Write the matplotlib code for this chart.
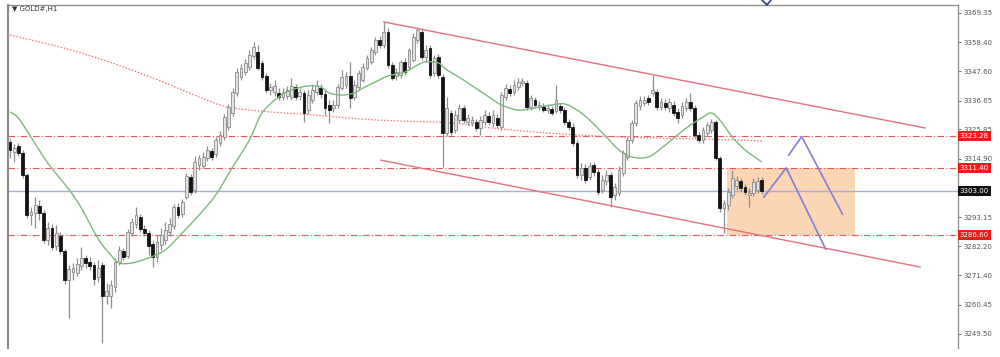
import matplotlib
matplotlib.use('Agg')
import matplotlib.pyplot as plt
import matplotlib.transforms as mtransforms
from matplotlib.patches import Rectangle, PathPatch
from matplotlib.path import Path
from matplotlib.lines import Line2D

symbol_label = "\u25BC GOLD#,H1"

open_ = [
    3321.2, 3317.4, 3319.7, 3317.1, 3308.9, 3293.9, 3294.7, 3297.3, 3294.7, 3284.6,
    3289.1, 3282.3, 3286.1, 3280.5, 3269.6, 3272.6, 3272.3, 3274.9, 3277.9, 3276.4,
    3275.2, 3270.8, 3275.2, 3263.7, 3263.7, 3267.0, 3276.4, 3280.5, 3278.6, 3287.2,
    3290.6, 3293.2, 3288.7, 3287.2, 3283.1, 3278.2, 3282.7, 3284.6, 3287.6, 3289.8,
    3296.9, 3294.3, 3300.6, 3308.1, 3303.3, 3312.6, 3312.2, 3315.2, 3317.8, 3316.7,
    3320.8, 3323.0, 3326.8, 3332.1, 3339.5, 3345.5, 3347.3, 3349.2, 3353.3, 3354.8,
    3350.7, 3345.8, 3340.6, 3339.9, 3339.5, 3338.0, 3338.4, 3338.0, 3341.7, 3338.4,
    3339.5, 3333.1, 3336.9, 3339.9, 3341.3, 3339.1, 3335.0, 3333.9, 3335.0, 3341.3,
    3342.5, 3345.8, 3338.0, 3341.7, 3344.3, 3348.8, 3351.1, 3354.8, 3359.3, 3357.4,
    3362.3, 3349.9, 3345.8, 3346.2, 3351.1, 3349.2, 3351.8, 3359.3, 3362.3, 3352.9,
    3356.3, 3346.9, 3352.9, 3345.5, 3324.5, 3332.0, 3325.7, 3329.4, 3333.9, 3328.6,
    3328.3, 3328.6, 3326.4, 3328.6, 3330.9, 3328.3, 3330.1, 3326.8, 3338.0, 3341.0,
    3339.9, 3341.7, 3343.2, 3343.2, 3334.2, 3336.9, 3334.2, 3334.6, 3333.1, 3333.5,
    3332.8, 3334.6, 3333.1, 3328.6, 3326.8, 3320.8, 3308.9, 3311.5, 3308.1, 3312.6,
    3310.0, 3303.3, 3306.6, 3308.9, 3301.4, 3302.1, 3309.6, 3315.6, 3321.9, 3328.3,
    3334.6, 3335.7, 3337.6, 3339.5, 3339.9, 3334.2, 3335.7, 3333.9, 3335.0, 3332.4,
    3331.3, 3333.9, 3336.1, 3333.9, 3323.8, 3321.9, 3324.5, 3325.7, 3328.6, 3315.2,
    3296.5, 3297.7, 3301.4, 3304.8, 3306.6, 3304.4, 3301.4, 3302.1, 3303.3, 3307.0,
]
high = [
    3322.7, 3320.4, 3320.8, 3318.2, 3309.6, 3296.9, 3300.6, 3299.5, 3295.8, 3291.3,
    3290.6, 3290.2, 3287.6, 3281.2, 3275.2, 3276.0, 3277.9, 3282.0, 3279.0, 3278.2,
    3276.4, 3277.1, 3276.4, 3268.5, 3269.6, 3277.9, 3282.3, 3281.6, 3288.7, 3292.8,
    3296.9, 3294.3, 3290.2, 3288.3, 3284.6, 3286.5, 3289.1, 3291.3, 3292.8, 3298.0,
    3298.4, 3299.9, 3309.6, 3309.2, 3315.9, 3316.3, 3317.4, 3319.7, 3318.9, 3323.0,
    3325.3, 3331.6, 3335.4, 3341.3, 3348.8, 3350.3, 3352.2, 3355.5, 3358.5, 3357.4,
    3351.8, 3346.9, 3343.2, 3344.3, 3341.3, 3341.3, 3342.1, 3345.1, 3342.8, 3341.3,
    3340.6, 3340.6, 3342.8, 3344.3, 3342.8, 3340.6, 3336.9, 3336.9, 3342.8, 3348.1,
    3347.3, 3351.1, 3344.3, 3348.1, 3350.7, 3353.7, 3356.7, 3360.4, 3360.8, 3366.0,
    3363.7, 3351.1, 3348.8, 3351.8, 3352.5, 3356.3, 3361.9, 3364.1, 3363.7, 3357.4,
    3357.4, 3353.7, 3354.0, 3346.6, 3338.0, 3333.1, 3333.1, 3335.4, 3335.0, 3331.6,
    3330.9, 3329.8, 3330.9, 3333.1, 3332.4, 3333.1, 3331.6, 3339.9, 3342.8, 3342.5,
    3344.3, 3345.1, 3345.1, 3344.3, 3338.7, 3338.0, 3336.5, 3335.7, 3335.4, 3334.6,
    3342.5, 3335.7, 3334.2, 3329.8, 3328.3, 3321.9, 3313.3, 3313.0, 3313.7, 3313.7,
    3311.5, 3308.9, 3310.7, 3310.0, 3305.9, 3312.2, 3318.2, 3323.0, 3329.4, 3336.9,
    3338.4, 3338.4, 3338.7, 3346.2, 3341.0, 3337.6, 3337.2, 3337.6, 3336.5, 3333.9,
    3336.1, 3337.6, 3339.5, 3335.0, 3324.9, 3326.8, 3328.6, 3329.8, 3329.4, 3315.9,
    3299.5, 3304.0, 3310.7, 3308.5, 3307.7, 3305.5, 3304.0, 3307.7, 3308.1, 3308.1,
]
low = [
    3315.2, 3313.7, 3315.9, 3307.7, 3292.8, 3290.2, 3289.1, 3292.1, 3283.5, 3282.7,
    3280.9, 3280.9, 3279.4, 3268.2, 3255.5, 3269.6, 3271.1, 3273.4, 3274.1, 3273.4,
    3267.8, 3268.9, 3246.1, 3260.7, 3259.2, 3265.2, 3275.2, 3277.1, 3277.9, 3286.1,
    3289.1, 3287.6, 3286.1, 3279.0, 3274.5, 3276.4, 3280.9, 3283.1, 3286.1, 3288.7,
    3292.8, 3293.2, 3299.9, 3301.4, 3302.1, 3310.7, 3311.5, 3314.1, 3314.5, 3315.6,
    3319.7, 3321.9, 3325.7, 3330.9, 3338.4, 3344.3, 3346.2, 3348.1, 3352.2, 3348.1,
    3344.3, 3339.5, 3338.7, 3338.4, 3336.9, 3336.9, 3337.2, 3336.9, 3336.9, 3336.9,
    3328.6, 3331.6, 3335.7, 3338.7, 3337.6, 3331.3, 3328.3, 3332.4, 3333.9, 3340.6,
    3341.3, 3333.9, 3336.9, 3340.6, 3343.6, 3348.1, 3350.3, 3353.7, 3356.3, 3356.3,
    3348.8, 3344.3, 3344.3, 3345.1, 3346.2, 3348.1, 3351.1, 3358.2, 3351.8, 3351.1,
    3345.1, 3345.8, 3345.1, 3311.8, 3323.4, 3323.8, 3324.5, 3328.3, 3328.3, 3327.5,
    3327.1, 3325.3, 3323.8, 3327.5, 3327.5, 3326.8, 3326.4, 3325.7, 3336.9, 3338.4,
    3338.7, 3340.6, 3342.1, 3333.1, 3333.1, 3333.9, 3333.1, 3332.4, 3332.0, 3331.3,
    3332.0, 3332.0, 3327.5, 3325.7, 3319.7, 3307.7, 3307.0, 3305.9, 3307.0, 3308.5,
    3301.4, 3302.1, 3305.1, 3296.9, 3299.5, 3301.0, 3308.5, 3314.5, 3320.8, 3327.1,
    3333.1, 3334.6, 3335.0, 3338.4, 3333.1, 3333.1, 3333.1, 3332.4, 3330.9, 3328.3,
    3330.1, 3332.8, 3332.8, 3322.7, 3320.8, 3320.8, 3323.4, 3324.5, 3314.5, 3295.0,
    3287.2, 3295.8, 3300.3, 3303.3, 3302.5, 3301.4, 3296.9, 3301.0, 3302.1, 3301.8,
]
close = [
    3318.2, 3318.9, 3317.1, 3308.9, 3293.9, 3295.0, 3297.7, 3294.7, 3284.6, 3289.1,
    3282.0, 3287.2, 3280.5, 3269.6, 3273.8, 3274.1, 3275.6, 3277.9, 3276.0, 3274.9,
    3270.0, 3274.1, 3263.7, 3265.5, 3267.8, 3276.4, 3280.9, 3278.2, 3287.6, 3291.3,
    3293.9, 3288.7, 3287.2, 3282.3, 3278.2, 3283.8, 3286.5, 3288.3, 3290.6, 3296.9,
    3293.9, 3298.8, 3308.5, 3302.5, 3313.7, 3315.2, 3315.6, 3318.2, 3315.6, 3321.9,
    3323.8, 3330.5, 3334.2, 3339.9, 3347.3, 3348.8, 3350.7, 3353.7, 3356.6, 3348.8,
    3345.5, 3340.6, 3341.7, 3342.1, 3338.0, 3339.9, 3340.6, 3342.1, 3338.0, 3339.9,
    3332.0, 3338.7, 3340.6, 3342.1, 3339.1, 3333.9, 3333.1, 3335.0, 3341.7, 3345.5,
    3345.8, 3337.6, 3342.5, 3346.9, 3349.2, 3352.5, 3355.5, 3359.3, 3357.4, 3362.3,
    3349.9, 3345.1, 3347.3, 3351.1, 3347.3, 3355.5, 3360.4, 3363.0, 3352.9, 3355.5,
    3346.2, 3352.5, 3346.2, 3324.5, 3333.9, 3324.9, 3331.3, 3333.9, 3329.4, 3330.1,
    3329.4, 3326.4, 3329.4, 3331.3, 3328.6, 3331.3, 3327.5, 3338.7, 3341.3, 3339.5,
    3342.5, 3343.6, 3344.0, 3334.2, 3337.6, 3335.0, 3335.0, 3333.1, 3333.9, 3332.0,
    3336.9, 3333.1, 3328.6, 3326.8, 3320.8, 3308.9, 3311.5, 3307.0, 3312.2, 3310.0,
    3302.5, 3307.0, 3308.9, 3300.6, 3304.4, 3310.7, 3317.1, 3321.9, 3328.3, 3335.7,
    3336.9, 3336.9, 3336.1, 3340.6, 3334.2, 3336.1, 3334.2, 3336.1, 3332.0, 3330.1,
    3334.6, 3336.1, 3333.9, 3323.8, 3321.9, 3325.7, 3327.5, 3328.6, 3315.2, 3296.5,
    3298.4, 3302.5, 3307.7, 3307.0, 3304.0, 3302.5, 3302.1, 3306.2, 3306.6, 3303.0,
]

# fast moving average (green) read at selected bars
ma_fast_idx = [0, 2, 5, 9, 14, 17, 21, 24, 26, 29, 33, 37, 41, 45, 49, 53, 57, 60,
               64, 67, 71, 74, 76, 79, 82, 84, 87, 90, 94, 97, 99, 102, 104, 108,
               114, 117, 121, 125, 129, 132, 135, 138, 142, 145, 148, 152, 156,
               161, 165, 167, 169, 172, 175, 179]
ma_fast_val = [3332.4, 3330.1, 3323.0, 3313.3, 3303.5, 3296.5, 3285.0, 3279.0, 3276.0,
               3276.0, 3277.9, 3280.9, 3287.2, 3293.9, 3301.4, 3311.8, 3321.9, 3332.0,
               3338.0, 3340.6, 3342.1, 3341.7, 3339.5, 3338.7, 3339.5, 3341.3, 3343.6,
               3345.8, 3347.3, 3349.9, 3351.1, 3350.7, 3348.1, 3344.3, 3338.0, 3335.0,
               3333.1, 3333.9, 3335.0, 3335.4, 3333.1, 3329.4, 3323.0, 3318.2, 3315.6,
               3315.6, 3320.0, 3326.4, 3330.5, 3332.0, 3329.4, 3323.0, 3318.2, 3313.7]

# slow moving average (red dotted)
ma_slow_idx = [0, 10, 17, 27, 37, 45, 52, 62, 72, 83, 93, 105, 117, 131, 146, 164, 179]
ma_slow_val = [3361.1, 3357.4, 3354.4, 3349.2, 3343.2, 3338.0, 3334.2, 3332.4, 3331.3,
               3329.8, 3329.0, 3328.3, 3326.0, 3324.2, 3323.0, 3322.3, 3321.6]

level_prices = [3323.28, 3311.40, 3286.60]
level_labels = ['3323.28', '3311.40', '3286.60']
bid_price = 3303.00
bid_label = '3303.00'

tick_values = [3369.35, 3358.40, 3347.60, 3336.65, 3325.85, 3314.90,
               3293.15, 3282.20, 3271.40, 3260.45, 3249.50]
tick_labels = ['3369.35', '3358.40', '3347.60', '3336.65', '3325.85', '3314.90',
               '3293.15', '3282.20', '3271.40', '3260.45', '3249.50']

channel_upper_idx = [89.0, 217.9]
channel_upper_val = [3366.0, 3326.4]
channel_lower_idx = [88.3, 216.7]
channel_lower_val = [3314.4, 3274.5]

zone_idx = [170.7, 201.2]
zone_val = [3286.60, 3311.40]

path1_idx = [179.5, 184.8, 194.2]
path1_val = [3300.6, 3311.5, 3281.2]
path2_idx = [185.4, 188.5, 198.2]
path2_val = [3316.3, 3323.2, 3294.2]


def smooth_path(xs, ys):
    """Cubic Bezier path passing through the given points (Catmull-Rom handles)."""
    verts = [(xs[0], ys[0])]
    codes = [Path.MOVETO]
    n = len(xs)
    for k in range(n - 1):
        x0, y0 = (xs[k - 1], ys[k - 1]) if k > 0 else (xs[k], ys[k])
        x1, y1 = xs[k], ys[k]
        x2, y2 = xs[k + 1], ys[k + 1]
        x3, y3 = (xs[k + 2], ys[k + 2]) if k + 2 < n else (x2, y2)
        c1 = (x1 + (x2 - x0) / 6.0, y1 + (y2 - y0) / 6.0)
        c2 = (x2 - (x3 - x1) / 6.0, y2 - (y3 - y1) / 6.0)
        verts += [c1, c2, (x2, y2)]
        codes += [Path.CURVE4, Path.CURVE4, Path.CURVE4]
    return Path(verts, codes)


fig = plt.figure(figsize=(10, 3.57), dpi=100)
fig.patch.set_facecolor('white')
ax = fig.add_axes([0.008, 0.0252, 0.950, 0.9608])
ax.set_xlim(-0.476, 225.71)
ax.set_ylim(3244.25, 3372.33)
ax.set_facecolor('white')

# zone
ax.add_patch(Rectangle((zone_idx[0], zone_val[0]), zone_idx[1] - zone_idx[0],
                       zone_val[1] - zone_val[0], facecolor='#FBD6B4',
                       edgecolor='none', zorder=1))

# horizontal levels
for p in level_prices:
    ax.axhline(p, color='#E45A5A', lw=0.8, ls=(0, (6, 2, 1, 2)), zorder=2)
ax.axhline(bid_price, color='#A4ADD4', lw=1.0, zorder=2)

# slow MA
ax.add_patch(PathPatch(smooth_path(ma_slow_idx, ma_slow_val), fill=False,
                       edgecolor='#F07272', lw=0.9, ls=(0, (1.2, 1.4)), zorder=2))

# candles
idx = list(range(len(close)))
bull_x, bull_b, bull_h = [], [], []
bear_x, bear_b, bear_h = [], [], []
for i in idx:
    o, c = open_[i], close[i]
    b = min(o, c)
    h = max(abs(c - o), 0.35)
    if c >= o:
        bull_x.append(i); bull_b.append(b); bull_h.append(h)
    else:
        bear_x.append(i); bear_b.append(b); bear_h.append(h)

ax.vlines(idx, low, high, color='#8E8E8E', lw=0.9, zorder=3)
ax.bar(bull_x, bull_h, bottom=bull_b, width=0.68, color='#E2E2E2',
       edgecolor='#8A8A8A', linewidth=0.6, zorder=3.5)
ax.bar(bear_x, bear_h, bottom=bear_b, width=0.68, color='#141414',
       edgecolor='#141414', linewidth=0.6, zorder=3.5)

# fast MA (smooth)
ax.add_patch(PathPatch(smooth_path(ma_fast_idx, ma_fast_val), fill=False,
                       edgecolor='#7DB87D', lw=1.0, zorder=4))

# channel
ax.plot(channel_upper_idx, channel_upper_val, color='#E6707E', lw=1.0, zorder=4)
ax.plot(channel_lower_idx, channel_lower_val, color='#E6707E', lw=1.0, zorder=4)

# projected paths
ax.plot(path1_idx, path1_val, color='#7F82D8', lw=1.2, zorder=5)
ax.plot(path2_idx, path2_val, color='#7F82D8', lw=1.2, zorder=5)

# axes styling
ax.yaxis.tick_right()
ax.set_yticks(tick_values)
ax.set_yticklabels(tick_labels)
ax.tick_params(axis='y', length=2, width=0.6, colors='#555555', labelsize=5, pad=2)
ax.set_xticks([])
ax.spines['bottom'].set_visible(False)
for s in ['left', 'top', 'right']:
    ax.spines[s].set_color('#8A8A8A')
ax.spines['left'].set_linewidth(1.5)
ax.spines['top'].set_linewidth(0.9)
ax.spines['right'].set_linewidth(0.9)

trans = mtransforms.blended_transform_factory(ax.transAxes, ax.transData)
for p, lab in zip(level_prices, level_labels):
    ax.text(1.0018, p, lab, transform=trans, ha='left', va='center', fontsize=5,
            color='white', zorder=10, clip_on=False,
            bbox=dict(boxstyle='square,pad=0.28', fc='#EE1B1B', ec='none'))
ax.text(1.0018, bid_price, bid_label, transform=trans, ha='left', va='center',
        fontsize=5, color='white', zorder=10, clip_on=False,
        bbox=dict(boxstyle='square,pad=0.28', fc='#111111', ec='none'))

fig.text(0.012, 1 - 9 / 357, symbol_label, fontsize=5, color='#333333',
         va='center', ha='left')

fig.add_artist(Line2D([0.762, 0.767, 0.771], [1.0, 1 - 5 / 357, 1.0],
                      color='#2B3A8C', lw=1.2))

fig.savefig('out.png', dpi=100, facecolor='white')
